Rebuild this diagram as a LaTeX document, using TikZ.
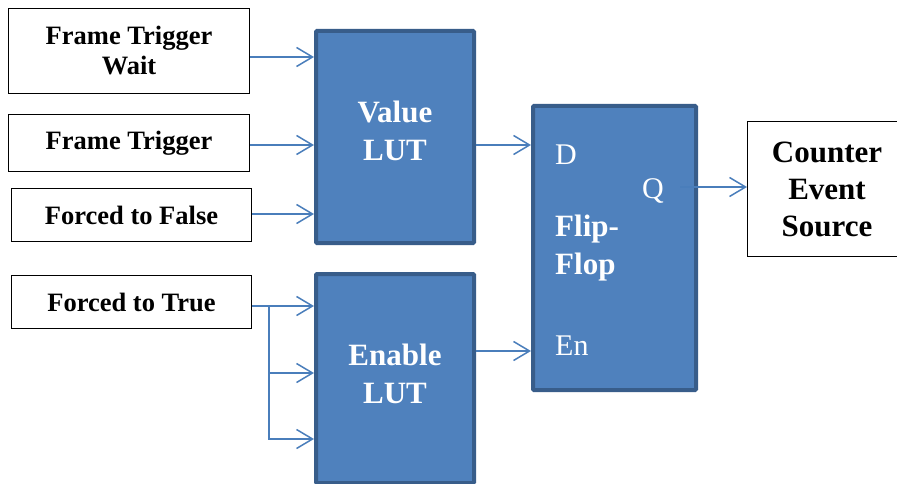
\documentclass[tikz,border=0pt]{standalone}
\usepackage{fontspec}
\setmainfont{Liberation Serif}
\usetikzlibrary{arrows.meta,calc}
\definecolor{lutfill}{HTML}{4F81BD}
\definecolor{lutedge}{HTML}{385D8A}
\definecolor{arrcol}{HTML}{4A7EBB}
\begin{document}
\begin{tikzpicture}[x=1pt,y=-1pt,
  inbox/.style={draw=black,line width=1pt,fill=white,inner sep=0pt,
    font=\fontsize{26.5}{30}\selectfont\bfseries,align=center},
  bluebox/.style={draw=lutedge,line width=4pt,fill=lutfill,inner sep=0pt,rounded corners=1pt},
  bluetext/.style={text=white,font=\fontsize{31}{38}\selectfont\bfseries,align=center,inner sep=0pt},
  pinlbl/.style={text=white,font=\fontsize{30}{36}\selectfont,inner sep=0pt,anchor=west},
  arr/.style={draw=arrcol,line width=1.5pt,-{Straight Barb[length=16pt,width=19pt,line width=1.5pt]}},
  ln/.style={draw=arrcol,line width=1.5pt}]
\path[use as bounding box,clip] (0,0) rectangle (897,484);
\fill[white] (0,0) rectangle (897,484);
% input boxes
\node[inbox,minimum width=241pt,minimum height=85pt] (ftw) at (129,51) {Frame Trigger\\Wait};
\node[inbox,minimum width=241pt,minimum height=57pt] (ft) at (129,143) {Frame Trigger};
\node[inbox,minimum width=240pt,minimum height=53pt] (ff0) at (131.5,215) {Forced to False};
\node[inbox,minimum width=240pt,minimum height=53pt] (ft1) at (131.5,302) {Forced to True};
% LUTs
\node[bluebox,minimum width=158pt,minimum height=212pt] (vlut) at (395,137) {};
\node[bluetext] (vlutT) at (395,131) {Value\\LUT};
\node[bluebox,minimum width=158pt,minimum height=209pt] (elut) at (395,378.5) {};
\node[bluetext] (elutT) at (395,373.5) {Enable\\LUT};
% flip-flop
\node[bluebox,minimum width=163pt,minimum height=284pt] (ff) at (614.5,248) {};
\node[bluetext,align=left,anchor=west] (ffT) at (555,248.5) {Flip-\\Flop};
\node[pinlbl] (dlbl) at (555,155) {D};
\node[pinlbl] (qlbl) at (642,191) {Q};
\node[pinlbl] (enlbl) at (555,346) {En};
% output
\node[draw=black,line width=1pt,fill=white,minimum width=159pt,minimum height=135pt,
  font=\fontsize{31}{37}\selectfont\bfseries,align=center,inner sep=0pt] (cnt) at (827,189) {Counter\\Event\\Source};
% arrows into value LUT
\draw[arr] ([yshift=-6pt]ftw.east) -- ([yshift=-6pt]ftw.east -| vlut.west);
\draw[arr] ([yshift=-2pt]ft.east) -- ([yshift=-2pt]ft.east -| vlut.west);
\draw[arr] ([yshift=1pt]ff0.east) -- ([yshift=1pt]ff0.east -| vlut.west);
% forced to true branches
\coordinate (br) at ([xshift=17pt,yshift=-4pt]ft1.east);
\draw[arr] ([yshift=-4pt]ft1.east) -- ([yshift=-4pt]ft1.east -| elut.west);
\draw[ln] (br) -- ($(br)+(0,133)$);
\draw[arr] (br) |- ([yshift=5.5pt]elut.west);
\draw[arr] (br) |- ([yshift=-60.5pt]elut.west);
% LUT outputs
\draw[arr] ([yshift=-8pt]vlut.east) -- ([yshift=-8pt]vlut.east -| ff.west);
\draw[arr] ([yshift=27.5pt]elut.east) -- ([yshift=27.5pt]elut.east -| ff.west);
% Q output
\draw[arr] ([xshift=-18pt,yshift=2pt]ff.east |- cnt.west) -- ([yshift=2pt]cnt.west);
\end{tikzpicture}
\end{document}
